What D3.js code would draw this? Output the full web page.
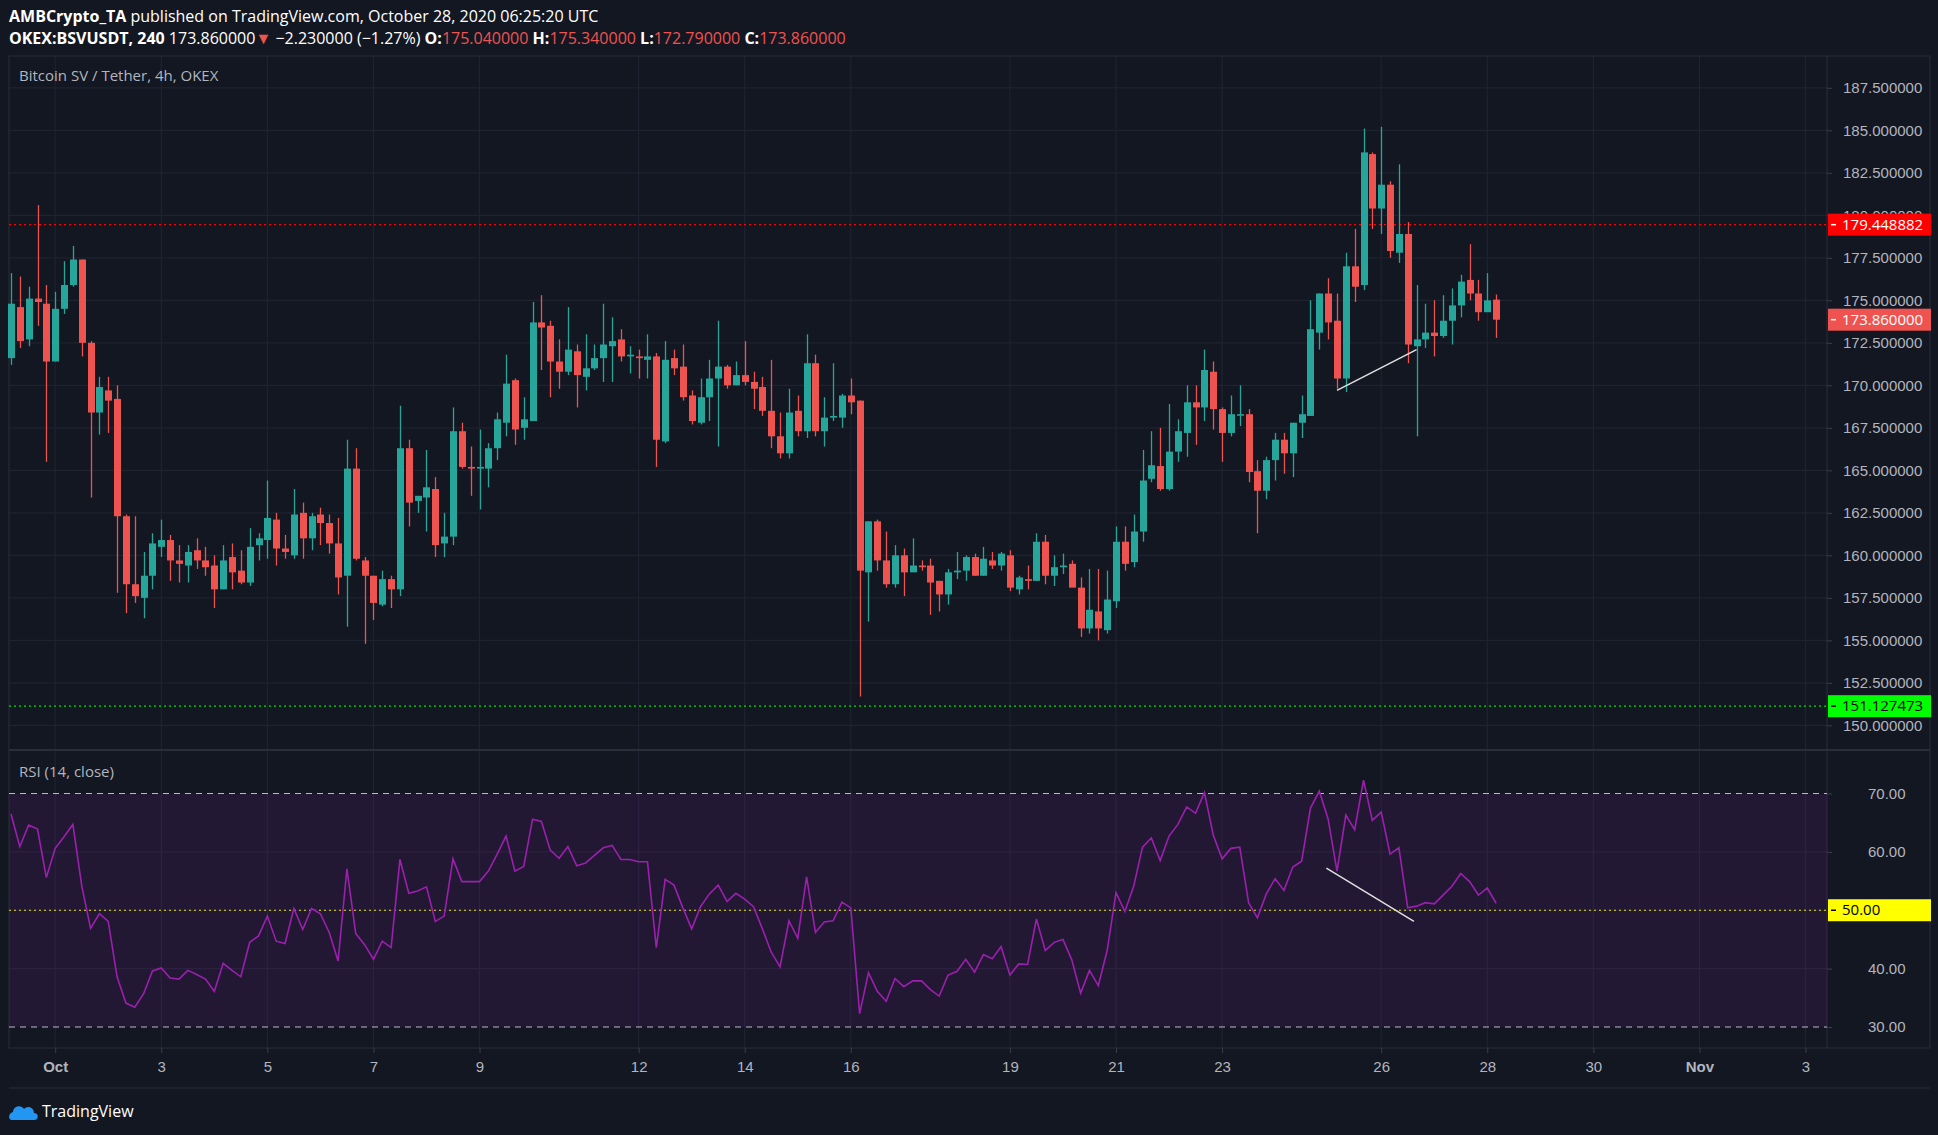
<!DOCTYPE html>
<html>
<head>
<meta charset="utf-8">
<title>BSVUSDT 4h</title>
<style>
  body { margin:0; background:#131722; }
  svg { display:block; font-family:"Open Sans", sans-serif; }
  .ax text { fill:#b2b5be; font-size:15px; }
</style>
<script src="https://d3js.org/d3.v7.min.js"></script>
</head>
<body>
<svg id="chart" width="1938" height="1135"></svg>
<script>
"use strict";

// candles from Sep 30 04:00 UTC, every 4h
var opens = [171.6,174.6,172.7,175.1,174.8,171.4,174.5,175.9,177.4,172.5,
  168.4,169.7,169.2,162.3,158.3,157.5,158.8,160.5,160.9,159.7,
  159.4,160.3,159.7,159.4,158.0,159.9,159.1,158.4,160.6,160.9,
  162.1,160.4,160.0,162.5,161.0,162.4,161.9,160.7,158.8,165.1,
  159.7,158.8,157.1,158.6,158.0,166.3,163.2,163.4,163.9,160.7,
  161.1,167.3,165.2,165.1,165.1,166.3,
  167.8,170.3,167.5,167.9,173.7,173.5,171.4,170.8,172.0,170.5,
  171.0,171.6,172.3,172.7,171.7,171.7,171.5,171.7,166.7,171.6,
  171.1,169.4,167.8,169.3,170.4,171.1,170.0,170.6,170.2,169.9,
  168.5,167.0,166.0,168.5,167.3,171.3,167.3,168.1,168.1,169.4,
  169.1,159.0,162.0,159.7,158.3,160.0,159.0,159.4,159.4,158.5,
  157.7,159.0,159.1,159.9,158.8,159.7,159.4,160.0,158.0,158.6,
  158.5,160.8,158.8,159.3,159.5,158.1,155.7,156.7,155.6,157.3,
  160.8,159.6,161.4,164.5,165.25,163.9,166.1,167.2,169.0,168.7,
  170.8,168.6,167.2,168.3,168.3,164.95,163.8,165.6,166.8,166.0,
  167.8,168.2,173.1,175.4,173.8,170.4,177.0,175.9,183.6,180.4,
  181.8,177.8,178.9,172.3,172.7,173.1,172.9,173.8,174.7,176.2,175.4,174.3,175.04];
var highs = [176.6,176.4,175.8,180.6,175.9,175.5,177.3,178.2,177.4,172.6,
  170.5,170.5,170.0,162.4,162.3,160.2,161.3,162.1,161.2,160.6,
  160.6,161.0,160.5,160.0,160.6,160.7,160.3,161.6,161.3,164.4,
  162.5,161.2,163.9,163.1,162.5,162.8,162.4,162.2,166.8,166.3,
  159.9,158.8,159.1,158.8,168.8,166.8,163.5,166.2,164.6,162.5,
  168.7,167.8,166.4,167.4,166.6,168.4,
  171.8,170.4,169.3,174.9,175.3,173.8,172.7,174.6,172.4,173.0,
  172.4,174.8,174.0,173.3,172.3,172.1,173.0,171.9,172.6,172.1,
  172.4,169.7,170.4,171.5,173.8,171.2,171.4,172.6,170.8,170.5,
  171.5,168.4,169.8,169.4,173.0,171.8,169.3,171.3,169.5,170.4,
  169.1,162.0,162.1,161.4,160.6,160.4,161.0,159.7,159.8,158.5,
  159.2,160.2,160.0,160.1,160.5,160.2,160.2,160.3,158.8,159.4,
  161.3,161.2,160.0,160.1,159.7,158.7,159.2,159.2,159.1,161.7,
  161.7,162.4,166.2,167.3,167.5,168.9,168.0,170.0,170.0,172.1,
  171.4,168.7,169.4,170.0,168.6,165.6,165.8,167.2,167.2,167.8,
  169.4,175.0,175.4,176.3,175.4,177.8,179.2,185.1,183.7,185.2,
  182.0,183.0,179.6,175.9,174.8,175.0,175.3,175.7,176.5,178.3,176.2,176.6,175.34];
var lows = [171.2,172.2,172.3,173.5,165.5,171.4,174.2,175.8,171.7,163.4,
  167.1,167.2,157.8,156.6,157.2,156.3,158.0,159.9,158.5,158.4,
  158.4,159.2,158.8,156.9,158.0,158.0,158.3,158.2,159.7,159.8,
  159.4,159.8,159.8,159.8,160.3,160.6,160.1,157.7,155.8,159.7,
  154.8,156.2,157.0,156.9,157.6,161.7,162.5,161.4,159.9,159.9,
  160.6,165.1,163.5,162.7,164.0,165.6,
  167.0,166.5,166.8,167.9,170.9,169.3,169.8,170.6,168.7,169.7,
  170.9,170.2,170.2,171.4,170.7,170.4,170.4,165.2,166.6,170.6,
  169.1,167.7,167.7,167.9,166.4,169.8,170.0,170.0,168.6,168.2,
  166.3,165.7,165.7,167.0,166.9,167.0,166.4,167.9,167.5,168.3,
  151.7,156.1,159.1,158.1,158.1,157.6,159.2,159.1,156.5,156.7,
  157.1,158.6,158.5,158.8,158.8,159.2,159.1,157.9,157.7,158.0,
  158.5,158.3,158.2,158.9,158.2,155.2,155.4,155.0,155.4,156.9,
  159.1,159.3,160.8,164.3,163.8,163.8,165.5,165.8,166.5,167.9,
  167.4,165.5,167.0,167.6,164.3,161.3,163.3,164.4,164.8,164.6,
  166.9,168.2,172.1,172.7,169.8,169.6,174.9,175.6,179.2,178.9,
  177.5,177.2,171.3,167.0,172.2,171.7,172.8,172.4,174.0,175.0,173.8,174.6,172.79];
var closes = [174.8,172.6,175.1,174.9,171.4,174.5,175.9,177.4,172.5,168.4,
  169.9,169.1,162.3,158.3,157.6,158.8,160.7,160.9,159.7,159.5,
  160.2,159.7,159.3,158.0,159.7,159.0,158.4,160.5,161.0,162.2,
  160.4,160.2,162.4,161.0,162.3,161.9,160.7,158.7,165.1,159.8,
  158.8,157.2,158.6,158.0,166.3,163.1,163.5,164.0,160.6,161.1,
  167.3,165.2,165.1,165.2,166.3,168.0,
  170.1,167.4,168.0,173.7,173.4,171.4,170.8,172.1,170.6,171.0,
  171.6,172.4,172.6,171.7,171.8,171.6,171.7,166.8,171.5,171.0,
  169.3,167.9,169.3,170.4,171.1,170.0,170.6,170.2,169.8,168.5,
  167.0,166.0,168.4,167.3,171.3,167.3,168.1,168.2,169.4,169.0,
  159.1,162.0,159.7,158.3,160.0,159.0,159.4,159.3,158.4,157.7,
  159.0,159.1,159.9,158.8,159.8,159.4,160.1,158.1,158.7,158.5,
  160.8,158.8,159.3,159.4,158.1,155.7,156.8,155.7,157.4,160.8,
  159.5,161.4,164.4,165.3,163.9,166.1,167.3,169.0,168.7,170.9,
  168.6,167.2,168.3,168.3,164.9,163.8,165.6,166.8,166.0,167.8,
  168.3,173.3,175.4,173.7,170.4,177.0,175.8,183.7,180.4,181.8,
  177.9,178.9,172.4,172.7,173.1,172.9,173.8,174.7,176.1,175.4,174.3,175.0,173.86];
var rsi = [66.5,60.9,64.6,63.9,55.6,60.6,62.6,64.7,54.2,46.9,
  49.4,48.1,38.6,34.1,33.4,35.7,39.6,40.1,38.4,38.2,
  39.7,39.0,38.2,36.1,40.9,39.7,38.6,44.5,45.6,49.0,
  44.7,44.3,50.3,46.7,50.3,49.4,46.2,41.3,57.1,46.0,
  44.1,41.6,44.7,43.6,58.7,52.9,53.3,54.0,48.1,49.0,
  58.8,54.9,54.9,54.9,56.7,59.6,62.7,56.7,57.5,65.6,
  65.2,60.3,58.9,60.9,57.6,58.1,59.4,60.7,61.1,58.7,
  58.7,58.3,58.3,43.6,55.3,54.3,50.4,46.8,50.6,52.8,
  54.3,51.5,52.9,51.9,50.6,46.8,42.8,40.3,48.2,45.2,
  55.7,46.2,48.0,48.2,51.4,50.4,32.3,39.3,36.1,34.4,
  38.3,36.9,37.9,37.9,36.4,35.3,38.9,39.5,41.6,39.4,
  42.4,41.7,43.8,38.9,40.8,40.7,48.5,43.1,44.5,45.0,
  41.5,35.8,39.7,37.1,43.1,53.0,49.8,54.1,60.8,62.4,
  58.5,62.7,64.7,67.7,66.6,70.2,62.9,58.8,60.6,60.8,
  51.3,48.7,52.8,55.4,53.4,57.4,58.4,67.5,70.4,65.6,
  56.7,66.3,63.8,72.3,65.4,66.8,59.6,60.7,50.4,50.7,
  51.3,51.1,52.6,54.1,56.3,54.9,52.6,53.8,51.2];
var priceTicks = d3.range(150, 188, 2.5);
var rsiTicks = [30, 40, 60, 70];
var dayTicks = ["2020-10-01","2020-10-03","2020-10-05","2020-10-07","2020-10-09","2020-10-12",
  "2020-10-14","2020-10-16","2020-10-19","2020-10-21","2020-10-23","2020-10-26","2020-10-28",
  "2020-10-30","2020-11-01","2020-11-03"];
var resistance = 179.448882, support = 151.127473;
// drawn trend lines: [candle index, value]
var priceTrend = [[150, 169.7], [159, 172.1]];
var rsiTrend = [[148.8, 57.2], [158.7, 48.1]];

var svg = d3.select("#chart");
var W = 1938, H = 1135;
var left = 9, right = 1827;
var priceTop = 56, priceBot = 750, rsiBot = 1048;
var start = Date.UTC(2020, 8, 30, 4);
var HOUR = 3600000;

var x = d3.scaleUtc()
  .domain([new Date(start), new Date(start + 24*HOUR)])
  .range([11, 11 + 53.04]);
var y = d3.scaleLinear().domain([148.55, 189.37]).range([priceBot, priceTop]);
var yr = d3.scaleLinear().domain([26.4, 77.45]).range([rsiBot, priceBot]);
function xi(i){ return x(new Date(start + i*4*HOUR)); }

svg.append("rect").attr("width", W).attr("height", H).attr("fill", "#131722");

// grid
var grid = svg.append("g").attr("stroke", "#1f2330").attr("stroke-width", 1.2);
var dates = dayTicks.map(function(s){ return new Date(s + "T00:00:00Z"); });
grid.selectAll(".v").data(dates).enter().append("line")
  .attr("x1", function(d){ return x(d); }).attr("x2", function(d){ return x(d); })
  .attr("y1", priceTop).attr("y2", rsiBot);
grid.selectAll(".h").data(priceTicks).enter().append("line")
  .attr("x1", left).attr("x2", right)
  .attr("y1", function(d){ return y(d); }).attr("y2", function(d){ return y(d); });
grid.selectAll(".hr").data([40, 50, 60]).enter().append("line")
  .attr("x1", left).attr("x2", right)
  .attr("y1", function(d){ return yr(d); }).attr("y2", function(d){ return yr(d); });

// frame lines
svg.append("rect").attr("x", left).attr("y", priceTop).attr("width", 1930 - left).attr("height", rsiBot - priceTop)
  .attr("fill", "none").attr("stroke", "#2a2e39");
svg.append("line").attr("x1", left).attr("x2", 1930).attr("y1", priceBot).attr("y2", priceBot).attr("stroke", "#2a2e39").attr("stroke-width", 2);
svg.append("line").attr("x1", right).attr("x2", right).attr("y1", priceTop).attr("y2", rsiBot).attr("stroke", "#2a2e39");
svg.append("line").attr("x1", left).attr("x2", 1930).attr("y1", 1088).attr("y2", 1088).attr("stroke", "#2a2e39");

// RSI band
svg.append("rect").attr("x", left).attr("width", right - left)
  .attr("y", yr(70)).attr("height", yr(30) - yr(70)).attr("fill", "#7b1fa2").attr("fill-opacity", 0.15);
svg.selectAll(".band").data([70, 30]).enter().append("line")
  .attr("x1", left).attr("x2", right)
  .attr("y1", function(d){ return yr(d); }).attr("y2", function(d){ return yr(d); })
  .attr("stroke", "#b9bbc4").attr("stroke-dasharray", "6,5").attr("stroke-width", 1.2);
svg.append("line").attr("x1", left).attr("x2", right).attr("y1", yr(50)).attr("y2", yr(50))
  .attr("stroke", "#e8e800").attr("stroke-dasharray", "2,3").attr("stroke-width", 1.2);

// horizontal levels
svg.append("line").attr("x1", left).attr("x2", right).attr("y1", y(resistance)).attr("y2", y(resistance))
  .attr("stroke", "#ff0000").attr("stroke-dasharray", "2,3").attr("stroke-width", 1.2);
svg.append("line").attr("x1", left).attr("x2", right).attr("y1", y(support)).attr("y2", y(support))
  .attr("stroke", "#00e000").attr("stroke-dasharray", "2,3").attr("stroke-width", 1.2);

// candles
var cw = 7;
var cg = svg.append("g").selectAll("g").data(opens).enter().append("g");
cg.append("line")
  .attr("x1", function(d, i){ return Math.round(xi(i)) + 0.5; })
  .attr("x2", function(d, i){ return Math.round(xi(i)) + 0.5; })
  .attr("y1", function(d, i){ return y(highs[i]); })
  .attr("y2", function(d, i){ return y(lows[i]); })
  .attr("stroke", function(d, i){ return closes[i] >= d ? "#26a69a" : "#ef5350"; })
  .attr("stroke-width", 1.3);
cg.append("rect")
  .attr("x", function(d, i){ return Math.round(xi(i)) + 0.5 - cw/2; })
  .attr("width", cw)
  .attr("y", function(d, i){ return y(Math.max(d, closes[i])); })
  .attr("height", function(d, i){ return Math.max(1.5, Math.abs(y(d) - y(closes[i]))); })
  .attr("fill", function(d, i){ return closes[i] >= d ? "#26a69a" : "#ef5350"; });

// RSI line
svg.append("path").datum(rsi)
  .attr("d", d3.line().x(function(d, i){ return xi(i); }).y(function(d){ return yr(d); }))
  .attr("fill", "none").attr("stroke", "#9c1fad").attr("stroke-width", 1.6);

// trend lines
svg.append("line").attr("x1", xi(priceTrend[0][0])).attr("y1", y(priceTrend[0][1]))
  .attr("x2", xi(priceTrend[1][0])).attr("y2", y(priceTrend[1][1]))
  .attr("stroke", "#e0e0e0").attr("stroke-width", 1.5);
svg.append("line").attr("x1", xi(rsiTrend[0][0])).attr("y1", yr(rsiTrend[0][1]))
  .attr("x2", xi(rsiTrend[1][0])).attr("y2", yr(rsiTrend[1][1]))
  .attr("stroke", "#e0e0e0").attr("stroke-width", 1.5);

// axes
svg.append("g").attr("class", "ax").attr("transform", "translate(" + right + ",0)")
  .call(d3.axisRight(y).tickValues(priceTicks).tickSize(5).tickPadding(11)
    .tickFormat(function(d){ return d.toFixed(6); }));
svg.append("g").attr("class", "ax").attr("transform", "translate(" + right + ",0)")
  .call(d3.axisRight(yr).tickValues(rsiTicks).tickSize(5).tickPadding(36)
    .tickFormat(function(d){ return d.toFixed(2); }));
var xAxis = svg.append("g").attr("class", "ax").attr("transform", "translate(0," + rsiBot + ")")
  .call(d3.axisBottom(x).tickValues(dates).tickSize(5).tickPadding(8)
    .tickFormat(function(d){
      var day = d.getUTCDate();
      if (day === 1) return d.getUTCMonth() === 9 ? "Oct" : "Nov";
      return day;
    }));
svg.selectAll(".ax .domain").remove();
svg.selectAll(".ax .tick line").attr("stroke", "#3a3e4a");
xAxis.selectAll("text").style("font-weight", function(d){ return d.getUTCDate() === 1 ? "bold" : null; });

// value labels on the right
function tag(val, scale, fill, txtFill, label){
  var g = svg.append("g").attr("transform", "translate(" + right + "," + scale(val) + ")");
  g.append("rect").attr("x", 1).attr("y", -11).attr("width", 103).attr("height", 22).attr("fill", fill);
  g.append("line").attr("x1", 4).attr("x2", 9).attr("stroke", txtFill).attr("stroke-width", 1.5);
  g.append("text").attr("x", 15).attr("dy", "0.35em").attr("fill", txtFill)
    .style("font-size", "15px").text(label);
}
tag(resistance, y, "#ff0000", "#ffffff", resistance.toFixed(6));
tag(closes[closes.length - 1], y, "#ef5350", "#ffffff", closes[closes.length - 1].toFixed(6));
tag(support, y, "#00ff00", "#000000", support.toFixed(6));
tag(50, yr, "#ffff00", "#000000", "50.00");

// header
var hdr = svg.append("g").style("font-size", "16px").attr("fill", "#ffffff");
var t1 = hdr.append("text").attr("x", 9).attr("y", 22);
t1.append("tspan").style("font-weight", "bold").text("AMBCrypto_TA");
t1.append("tspan").text(" published on TradingView.com, October 28, 2020 06:25:20 UTC");
var t2 = hdr.append("text").attr("x", 9).attr("y", 44);
t2.append("tspan").style("font-weight", "bold").text("OKEX:BSVUSDT, 240");
t2.append("tspan").text(" 173.860000");
t2.append("tspan").attr("fill", "#ef5350").text("\u25BC");
t2.append("tspan").text(" \u22122.230000 (\u22121.27%) ");
[["O:", "175.040000"], ["H:", "175.340000"], ["L:", "172.790000"], ["C:", "173.860000"]].forEach(function(p){
  t2.append("tspan").style("font-weight", "bold").text(p[0]);
  t2.append("tspan").attr("fill", "#ef5350").text(p[1] + " ");
});
svg.append("text").attr("x", 19).attr("y", 81).attr("fill", "#b2b5be").style("font-size", "15px")
  .text("Bitcoin SV / Tether, 4h, OKEX");
svg.append("text").attr("x", 19).attr("y", 777).attr("fill", "#b2b5be").style("font-size", "15px")
  .text("RSI (14, close)");

// footer logo
var logo = svg.append("g").attr("transform", "translate(10,1102)");
logo.append("path").attr("d", "M2,18 C-2,18 -2,11 3,10 C3,4 11,2 14,7 C17,3 24,5 24,11 C29,11 29,18 24,18 Z")
  .attr("fill", "#2196f3");
logo.append("text").attr("x", 32).attr("y", 15).attr("fill", "#ffffff").style("font-size", "16px")
  .text("TradingView");
</script>
</body>
</html>
